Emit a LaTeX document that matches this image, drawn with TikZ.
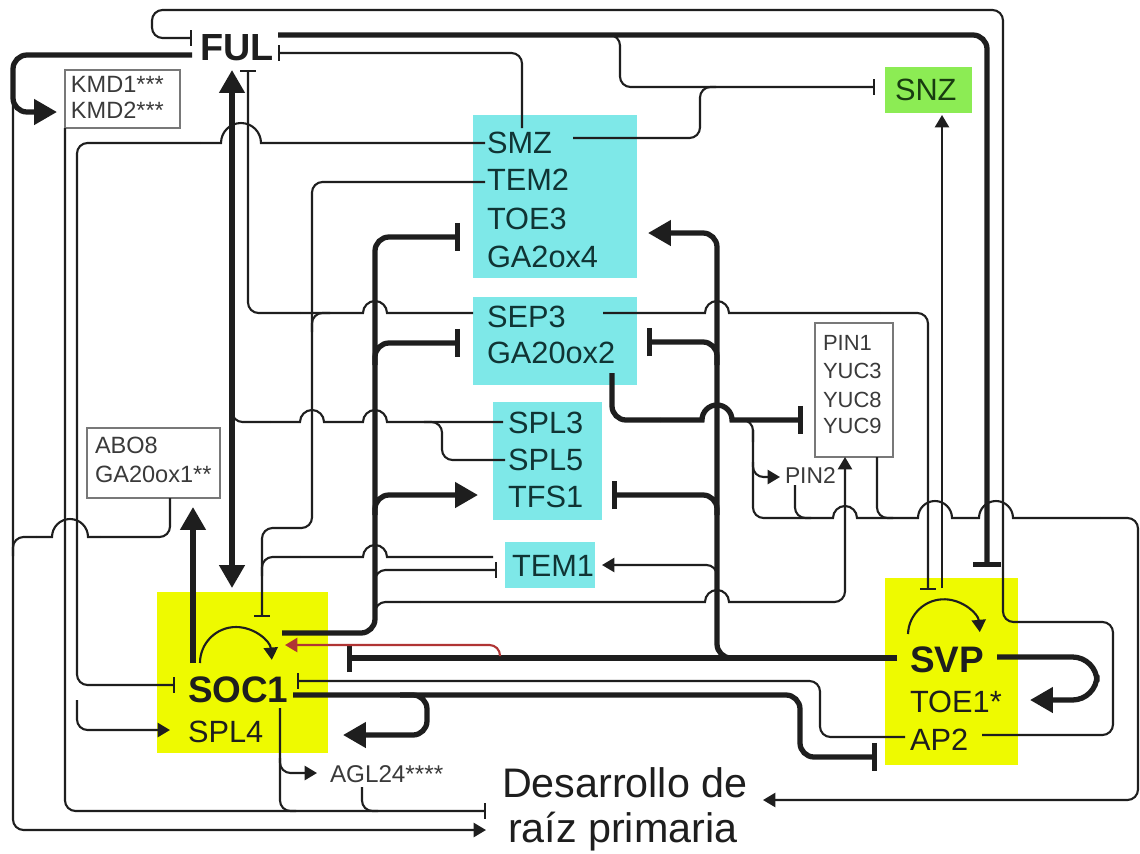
\documentclass[tikz,border=0pt]{standalone}
\usepackage{fontspec}
\setmainfont{Liberation Sans}
\usetikzlibrary{arrows.meta}
\definecolor{cyanbox}{RGB}{126,232,232}
\definecolor{yelbox}{RGB}{238,250,0}
\definecolor{grnbox}{RGB}{140,236,84}
\definecolor{ink}{RGB}{30,30,30}
\definecolor{tealink}{RGB}{16,52,52}
\definecolor{grntext}{RGB}{24,60,16}
\definecolor{graytext}{RGB}{58,58,58}
\definecolor{boxline}{RGB}{120,120,120}
\definecolor{redline}{RGB}{176,52,52}
\tikzset{
  every node/.style={inner sep=0pt, outer sep=0pt},
  tl/.style={draw=ink, line width=1.2pt, rounded corners=6pt},
  tk/.style={draw=ink, line width=3pt, rounded corners=8pt},
  hl/.style={draw=ink, line width=1.2pt},
  hk/.style={draw=ink, line width=3pt},
  ta/.style={-{Triangle[length=7pt,width=8pt]}},
  tb/.style={-{Bar[width=9pt]}},
  ka/.style={-{Triangle[length=13pt,width=14pt]}},
  kb/.style={-{Bar[width=16pt]}},
  gene/.style={anchor=base west, text=tealink, font=\fontsize{17.5}{20}\selectfont},
  hub/.style={anchor=base west, text=ink, font=\bfseries\fontsize{21}{24}\selectfont},
  minor/.style={anchor=base west, text=graytext, font=\fontsize{13.4}{16}\selectfont},
  pinfont/.style={anchor=base west, text=graytext, font=\fontsize{12.5}{15}\selectfont},
  fillbox/.style={anchor=north west},
  linebox/.style={anchor=north west, draw=boxline, line width=1pt}
}
\begin{document}
\begin{tikzpicture}[x=0.02cm,y=-0.02cm]
\useasboundingbox (0,0) rectangle (1140,853);
\fill[white] (0,0) rectangle (1140,853);

% ---------- boxes ----------
\node[fillbox, fill=cyanbox, minimum width=3.28cm, minimum height=3.26cm] (b1) at (473,115) {};
\node[fillbox, fill=cyanbox, minimum width=3.28cm, minimum height=1.76cm] (b2) at (473,297) {};
\node[fillbox, fill=cyanbox, minimum width=2.18cm, minimum height=2.36cm] (b3) at (493,402) {};
\node[fillbox, fill=cyanbox, minimum width=1.8cm, minimum height=0.92cm] (b4) at (505,542) {};
\node[fillbox, fill=grnbox, minimum width=1.74cm, minimum height=0.92cm] (bsnz) at (885,67) {};
\node[fillbox, fill=yelbox, minimum width=3.42cm, minimum height=3.22cm] (bsoc) at (157,592) {};
\node[fillbox, fill=yelbox, minimum width=2.66cm, minimum height=3.74cm] (bsvp) at (885,578) {};
\node[linebox, minimum width=2.3cm, minimum height=1.16cm] (bkmd) at (65,70) {};
\node[linebox, minimum width=2.66cm, minimum height=1.4cm] (babo) at (87,428) {};
\node[linebox, minimum width=1.56cm, minimum height=2.68cm] (bpin) at (815,323) {};

% ---------- top region ----------
% AP2 -| FUL (outer loop)
\draw[tl, tb] (982,735) -- (1113,735) -- (1113,622) -- (1003,622) -- (1003,10) -- (152,10) -- (152,38) -- (192,38);
% FUL -| SVP (thick)
\draw[tk, kb] (278,35) -- (987,35) -- (987,567);
% FUL -| SNZ branch and SMZ -| SNZ
\draw[tl, tb] (600,35) -- (620,35) -- (620,87) -- (875,87);
\draw[tl] (573,138) -- (700,138) -- (700,87) -- (716,87);
% SMZ -| FUL
\draw[tl, tb] (522,128) -- (522,53) -- (278,53);
% FUL -> KMD (thick)
\draw[tk, ka] (192,55) -- (13,55) -- (13,112) -- (57,112);
% FUL -> root (outer thin)
\draw[tl, ta] (13,95) -- (13,830) -- (486,830);
% ABO8 -> root merge
\draw[tl] (170,498) -- (170,537) -- (100,537);
\draw[hl] (100,537) -- (88,537) arc[start angle=0,end angle=180,radius=0.36cm] -- (36,537);
\draw[tl] (36,537) -- (13,537) -- (13,556);
% KMD -| root, SOC1 and AGL24 merge
\draw[tl, tb] (65,128) -- (65,811) -- (486,811);
\draw[tl] (280,708) -- (280,811) -- (296,811);
\draw[tl] (362,787) -- (362,811) -- (378,811);
\draw[tl, ta] (280,758) -- (280,773) -- (317,773);
% SMZ -| SOC1, SMZ -> SPL4
\draw[hl] (485,143) -- (261,143) arc[start angle=0,end angle=180,radius=0.4cm] -- (200,143);
\draw[tl, tb] (200,143) -- (77,143) -- (77,685) -- (175,685);
\draw[tl, ta] (77,700) -- (77,730) -- (170,730);

% FUL <-> SOC1 thick, SOC1 -> ABO8
\draw[tk, {Triangle[length=13pt,width=14pt]}-{Triangle[length=13pt,width=14pt]}] (232,70) -- (232,588);
\draw[tk, ka] (193,663) -- (193,507);

% SEP3 -| FUL, SEP3 merge into TEM2 line
\draw[hl] (473,313) -- (387,313) arc[start angle=0,end angle=180,radius=0.24cm] -- (300,313);
\draw[tl, tb] (300,313) -- (248,313) -- (248,70);
\draw[tl] (330,313) -- (312,313) -- (312,332);
% TEM2 -| SOC1, TEM1 merge
\draw[tl, tb] (485,182) -- (312,182) -- (312,528) -- (262,528) -- (262,617);
\draw[hl] (493,557) -- (387,557) arc[start angle=0,end angle=180,radius=0.24cm] -- (300,557);
\draw[tl] (300,557) -- (262,557) -- (262,576);
% SPL3 / SPL5 merge into FUL-SOC1 line
\draw[hl] (503,422) -- (387,422) arc[start angle=0,end angle=180,radius=0.24cm] -- (324,422) arc[start angle=0,end angle=180,radius=0.24cm] -- (270,422);
\draw[tl] (270,422) -- (232,422) -- (232,404);
\draw[tl] (505,460) -- (442,460) -- (442,422) -- (424,422);

% SOC1 thick trunk
\draw[tk, kb] (282,633) -- (375,633) -- (375,237) -- (460,237);
\draw[tk, kb] (375,365) -- (375,343) -- (460,343);
\draw[tk, ka] (375,515) -- (375,495) -- (478,495);
\draw[tl, tb] (375,590) -- (375,570) -- (497,570);
\draw[tl] (375,620) -- (375,602) -- (420,602);
\draw[hl] (420,602) -- (705,602) arc[start angle=180,end angle=0,radius=0.24cm] -- (800,602);
\draw[tl, ta] (800,602) -- (845,602) -- (845,457);

% SVP thick trunk
\draw[tk, kb] (897,658) -- (347,658);
\draw[tk, ka] (745,658) -- (717,658) -- (717,233) -- (648,233);
\draw[tk, kb] (717,365) -- (717,342) -- (647,342);
\draw[tk, kb] (717,515) -- (717,495) -- (612,495);
\draw[tl, ta] (717,580) -- (717,565) -- (602,565);
% red SVP -> SOC1
\draw[draw=redline, line width=1.2pt, rounded corners=6pt, -{Triangle[length=7pt,width=8pt]}] (500,656) -- (500,645) -- (285,645);
% SVP -> TOE1
\draw[tk, ka, rounded corners=14pt] (997,657) -- (1097,657) -- (1097,700) -- (1030,700);
% SOC1 -| AP2 and SOC1 -> (loop back)
\draw[tk, kb] (293,695) -- (800,695) -- (800,757) -- (877,757);
\draw[tk, ka] (400,695) -- (427,695) -- (427,735) -- (343,735);
% AP2 -| SOC1
\draw[tl, tb] (905,737) -- (820,737) -- (820,681) -- (297,681);

% SEP3 -| SVP, SVP -> SNZ
\draw[hl] (603,313) -- (705,313) arc[start angle=180,end angle=0,radius=0.24cm] -- (880,313);
\draw[tl, tb] (880,313) -- (928,313) -- (928,590);
\draw[tl, ta] (942,588) -- (942,115);

% GA20ox2 -| PIN/YUC box
\draw[tk] (612,373) -- (612,420) -- (660,420);
\draw[hk, kb] (660,420) -- (702,420) arc[start angle=180,end angle=0,radius=0.3cm] -- (803,420);
\draw[tl] (735,420) -- (753,420) -- (753,442);
\draw[tl, ta] (753,462) -- (753,477) -- (780,477);
% merging line to root development
\draw[tl] (753,430) -- (753,518) -- (800,518);
\draw[hl] (800,518) -- (833,518) arc[start angle=180,end angle=0,radius=0.24cm] -- (918,518) arc[start angle=180,end angle=0,radius=0.34cm] -- (979,518) arc[start angle=180,end angle=0,radius=0.34cm] -- (1100,518);
\draw[tl, ta] (1100,518) -- (1138,518) -- (1138,800) -- (763,800);
\draw[tl] (795,485) -- (795,518) -- (811,518);
\draw[tl] (877,457) -- (877,518) -- (893,518);

% self loops
\draw[tl, ta] (200,663) arc[start angle=180,end angle=5,radius=0.72cm];
\draw[tl, ta] (908,634) arc[start angle=178,end angle=5,radius=0.72cm];

% ---------- texts ----------
\node[anchor=base west, text=ink, font=\bfseries\fontsize{21.5}{24}\selectfont] (ful) at (200,60) {FUL};
\node[minor] (kmd1) at (71,92) {KMD1***};
\node[minor] (kmd2) at (71,118) {KMD2***};
\node[gene] (smz) at (487,153) {SMZ};
\node[gene] (tem2) at (487,190) {TEM2};
\node[gene] (toe3) at (487,229) {TOE3};
\node[gene] (ga2ox4) at (487,267) {GA2ox4};
\node[gene] (sep3) at (487,327) {SEP3};
\node[gene] (ga20ox2) at (487,363) {GA20ox2};
\node[gene] (spl3) at (508,433) {SPL3};
\node[gene] (spl5) at (508,470) {SPL5};
\node[gene] (tfs1) at (508,507) {TFS1};
\node[gene] (tem1) at (512,576) {TEM1};
\node[anchor=base west, text=grntext, font=\fontsize{17.5}{20}\selectfont] (snz) at (895,100) {SNZ};
\node[minor] (abo8) at (95,453) {ABO8};
\node[minor] (ga20ox1) at (95,482) {GA20ox1**};
\node[pinfont] (pin1) at (823,350) {PIN1};
\node[pinfont] (yuc3) at (823,378) {YUC3};
\node[pinfont] (yuc8) at (823,407) {YUC8};
\node[pinfont] (yuc9) at (823,433) {YUC9};
\node[anchor=base west, text=graytext, font=\fontsize{13}{15}\selectfont] (pin2) at (785,483) {PIN2};
\node[hub] (soc1) at (188,702) {SOC1};
\node[gene, text=ink] (spl4) at (188,742) {SPL4};
\node[hub] (svp) at (910,672) {SVP};
\node[gene, text=ink] (toe1) at (910,712) {TOE1*};
\node[gene, text=ink] (ap2) at (910,750) {AP2};
\node[anchor=base west, text=graytext, font=\fontsize{13.8}{16}\selectfont] (agl24) at (330,782) {AGL24****};
\node[anchor=base west, text=ink, font=\fontsize{23.5}{27}\selectfont] (root1) at (502,797) {Desarrollo de};
\node[anchor=base west, text=ink, font=\fontsize{23.5}{27}\selectfont] (root2) at (508,842) {raíz primaria};
\end{tikzpicture}
\end{document}
